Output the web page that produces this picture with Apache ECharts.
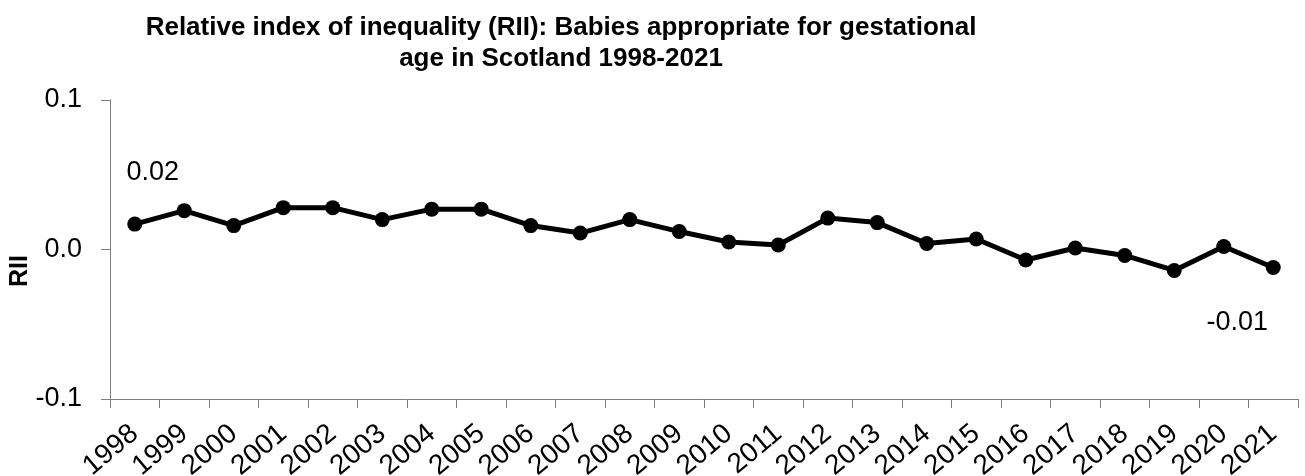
<!DOCTYPE html>
<html>
<head>
<meta charset="utf-8">
<script src="https://cdn.jsdelivr.net/npm/echarts@6/dist/echarts.min.js"></script>
<style>
  html, body { margin: 0; padding: 0; background: #fff; }
  #chart { width: 1305px; height: 476px; }
</style>
</head>
<body>
<div id="chart"></div>
<script>
// Years on the category axis
const years = ['1998','1999','2000','2001','2002','2003','2004','2005','2006','2007','2008','2009',
               '2010','2011','2012','2013','2014','2015','2016','2017','2018','2019','2020','2021'];

// Relative index of inequality for each year
const rii = [0.017, 0.026, 0.016, 0.028, 0.028, 0.020, 0.027, 0.027, 0.016, 0.011, 0.020, 0.012,
             0.005, 0.003, 0.021, 0.018, 0.004, 0.007, -0.007, 0.001, -0.004, -0.014, 0.002, -0.012];

// Y axis range and step
const yMin = -0.1, yMax = 0.1, yStep = 0.1;

// Points whose value is written next to them
const labelled = { 0: [18, -52], 23: [-36, 55] };

const chart = echarts.init(document.getElementById('chart'));
const font = 'Liberation Sans, Arial, sans-serif';
const axisGray = '#7f7f7f';

const seriesData = rii.map((v, i) => {
  if (labelled[i]) {
    return {
      value: v,
      label: {
        show: true,
        position: 'inside',
        offset: labelled[i],
        formatter: p => p.value.toFixed(2),
        color: '#000',
        fontFamily: font,
        fontSize: 27
      }
    };
  }
  return v;
});

chart.setOption({
  animation: false,
  backgroundColor: '#fff',
  grid: { left: 110, right: 7, top: 100, bottom: 77, containLabel: false, outerBoundsMode: 'none' },
  graphic: [
    {
      type: 'text',
      x: 561, y: 12,
      style: {
        text: 'Relative index of inequality (RII): Babies appropriate for gestational\nage in Scotland 1998-2021',
        font: 'bold 26px ' + font,
        fill: '#000',
        align: 'center',
        verticalAlign: 'top',
        lineHeight: 31
      }
    },
    {
      type: 'text',
      x: 20, y: 271,
      rotation: Math.PI / 2,
      style: {
        text: 'RII',
        font: 'bold 25px ' + font,
        fill: '#000',
        align: 'center',
        verticalAlign: 'middle'
      }
    }
  ],
  xAxis: [
    {
      // labels along the bottom edge of the plot
      type: 'category',
      data: years,
      boundaryGap: true,
      position: 'bottom',
      axisLine: { show: false },
      axisTick: { show: false },
      axisLabel: {
        rotate: 40,
        interval: 0,
        margin: 31,
        verticalAlign: 'middle',
        color: '#000',
        fontFamily: font,
        fontSize: 28
      },
      splitLine: { show: false }
    },
    {
      // axis line and ticks crossing at zero
      type: 'category',
      data: years,
      boundaryGap: true,
      position: 'bottom',
      axisLine: { show: true, onZero: true, lineStyle: { color: axisGray, width: 1 } },
      axisTick: { show: true, inside: false, length: 9, lineStyle: { color: axisGray } },
      axisLabel: { show: false },
      splitLine: { show: false }
    }
  ],
  yAxis: {
    type: 'value',
    min: yMin,
    max: yMax,
    interval: yStep,
    axisLine: { show: true, lineStyle: { color: axisGray, width: 1 } },
    axisTick: { show: true, length: 9, lineStyle: { color: axisGray } },
    axisLabel: {
      margin: 28,
      formatter: v => v.toFixed(1),
      color: '#000',
      fontFamily: font,
      fontSize: 27
    },
    splitLine: { show: false }
  },
  series: [
    {
      type: 'line',
      xAxisIndex: 0,
      data: seriesData,
      symbol: 'circle',
      symbolSize: 15,
      lineStyle: { color: '#000', width: 5 },
      itemStyle: { color: '#000' },
      label: { show: false }
    }
  ]
});
</script>
</body>
</html>
